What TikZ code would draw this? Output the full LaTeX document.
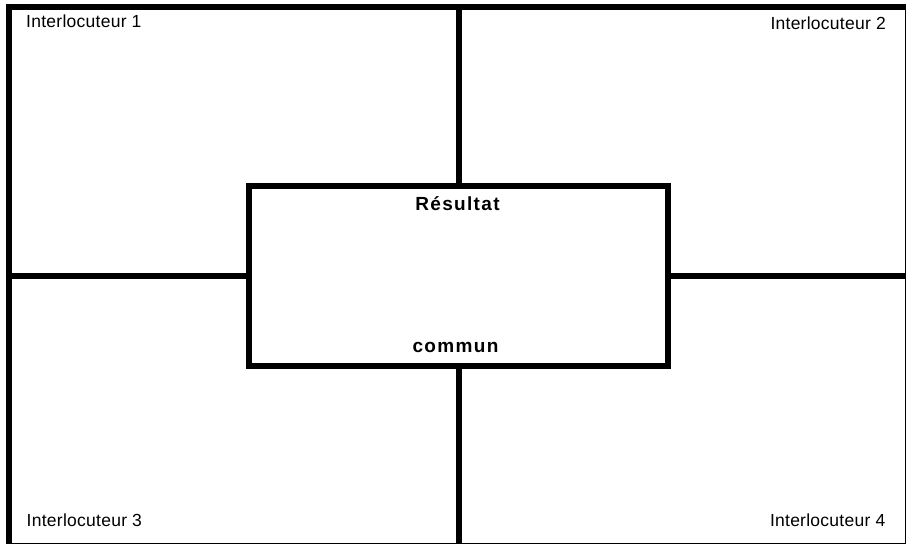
\documentclass[tikz,border=0pt]{standalone}
\usepackage{fontspec}
\setmainfont{Liberation Sans}
\newfontfamily\labfont[LetterSpace=1.5]{Liberation Sans}
\newfontfamily\boldlab[LetterSpace=7]{Liberation Sans Bold}
\begin{document}
\begin{tikzpicture}[x=1pt,y=-1pt,
  thickline/.style={line width=6pt,black},
  frame/.style={draw,thickline,minimum width=899.5pt,minimum height=539.5pt,inner sep=0pt,outer sep=0pt},
  centerbox/.style={draw,thickline,minimum width=419pt,minimum height=180pt,inner sep=0pt,outer sep=0pt},
  corner/.style={inner sep=0pt,font=\labfont\fontsize{17.5pt}{19pt}\selectfont},
  title/.style={inner sep=0pt,anchor=base,font=\boldlab\fontsize{19pt}{21pt}\selectfont}]
\useasboundingbox (0,0) rectangle (906,544);
\clip (0,0) rectangle (906,544);
\node[frame] (fr) at (458.25,276.25) {};
\node[centerbox] (box) at (458.5,276) {};
\draw[thickline] (box.north) -- (box.north |- fr.north);
\draw[thickline] (box.south) -- (box.south |- fr.south);
\draw[thickline] (box.west) -- (box.west -| fr.west);
\draw[thickline] (box.east) -- (box.east -| fr.east);
\node[corner,anchor=base west] (i1) at (26,27) {Interlocuteur 1};
\node[corner,anchor=base east] (i2) at (886,29) {Interlocuteur 2};
\node[corner,anchor=base west] (i3) at (26.5,526.5) {Interlocuteur 3};
\node[corner,anchor=base east] (i4) at (885.5,526) {Interlocuteur 4};
\node[title] (res) at (457.5,210) {Résultat};
\node[title] (com) at (455.5,352) {commun};
\end{tikzpicture}
\end{document}
